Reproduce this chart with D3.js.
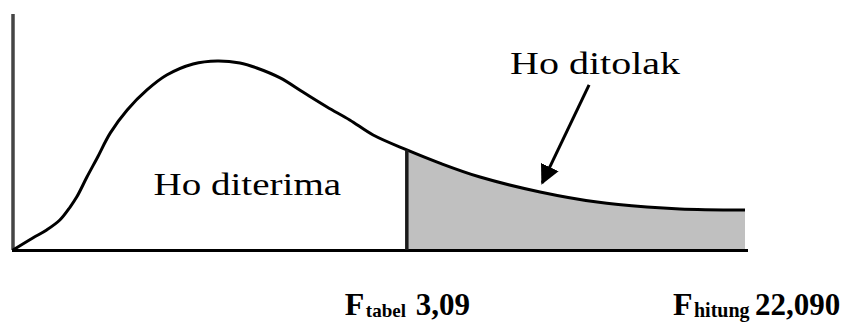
<!DOCTYPE html>
<html lang="id">
<head>
    <meta charset="UTF-8">
    <script src="https://d3js.org/d3.v7.min.js"></script>
    <style>
        body { margin: 0; background: white; }
        text { font-family: "Liberation Serif"; fill: #000; }
    </style>
</head>
<body>
    <svg id="chart" width="845" height="322"></svg>

    <script>
        // kurva distribusi F (satuan bebas)
        const curveX = [0, 2.7, 4.6, 6.4, 7.8, 8.7, 10.1, 11.5, 13.3, 15.6, 18.3, 21.0, 24.6, 27.9, 31.0, 33.3, 36.5,
                        39.6, 42.9, 46.0, 49.2, 53.8, 58.3, 63.8, 72.0, 79.8, 86.6, 91.1, 100];
        const curveY = [0, 0.063, 0.105, 0.157, 0.225, 0.277, 0.382, 0.482, 0.613, 0.733, 0.838, 0.916, 0.974, 0.99, 0.979, 0.953, 0.901,
                        0.827, 0.749, 0.681, 0.602, 0.524, 0.455, 0.382, 0.304, 0.251, 0.225, 0.215, 0.209];

        const fTabelPos = 53.8;   // posisi F tabel
        const fHitungPos = 100;   // posisi F hitung
        const labelTabel = ["F", "tabel", "3,09"];
        const labelHitung = ["F", "hitung", "22,090"];

        const data = curveX.map((x, i) => ({ x: x, y: curveY[i] }));

        const svg = d3.select("#chart");

        const x = d3.scaleLinear().domain([0, 100]).range([13, 745]);
        const y = d3.scaleLinear().domain([0, 1]).range([250, 59]);
        const curve = d3.curveCatmullRom.alpha(0.5);

        // daerah ditolak (arsir abu-abu)
        const tail = data.filter(d => d.x >= fTabelPos);
        svg.append("path")
            .datum(tail)
            .attr("fill", "#c0c0c0")
            .attr("d", d3.area()
                .x(d => x(d.x))
                .y0(y(0))
                .y1(d => y(d.y))
                .curve(curve));

        // sumbu Y
        svg.append("line")
            .attr("x1", 13).attr("x2", 13)
            .attr("y1", 14).attr("y2", y(0))
            .attr("stroke", "#454545")
            .attr("stroke-width", 3.5);

        // sumbu X
        svg.append("line")
            .attr("x1", 12).attr("x2", x(100) + 3)
            .attr("y1", y(0) + 0.5).attr("y2", y(0) + 0.5)
            .attr("stroke", "#000")
            .attr("stroke-width", 3);

        // kurva
        svg.append("path")
            .datum(data)
            .attr("fill", "none")
            .attr("stroke", "#000")
            .attr("stroke-width", 3)
            .attr("d", d3.line()
                .x(d => x(d.x))
                .y(d => y(d.y))
                .curve(curve));

        // garis batas F tabel
        const yTabel = curveY[curveX.indexOf(fTabelPos)];
        svg.append("line")
            .attr("x1", x(fTabelPos)).attr("x2", x(fTabelPos))
            .attr("y1", y(yTabel)).attr("y2", y(0))
            .attr("stroke", "#1a1a1a")
            .attr("stroke-width", 3.5);

        // teks di dalam grafik (aslinya agak melebar)
        svg.append("text")
            .attr("transform", `translate(${x(19.2)},${y(0.288)}) scale(1.22,1)`)
            .style("font-size", "32px")
            .text("Ho diterima");

        svg.append("text")
            .attr("transform", `translate(${x(67.9)},${y(0.921)}) scale(1.25,1)`)
            .style("font-size", "32px")
            .text("Ho ditolak");

        // panah
        svg.append("defs").append("marker")
            .attr("id", "head")
            .attr("viewBox", "0 0 10 10")
            .attr("refX", 9).attr("refY", 5)
            .attr("markerWidth", 6.5).attr("markerHeight", 6.5)
            .attr("markerUnits", "strokeWidth")
            .attr("orient", "auto")
            .append("path")
            .attr("d", "M0,0 L10,5 L0,10 Z")
            .attr("fill", "#000");

        svg.append("line")
            .attr("x1", x(78.7)).attr("y1", y(0.864))
            .attr("x2", x(72.3)).attr("y2", y(0.351))
            .attr("stroke", "#000")
            .attr("stroke-width", 3)
            .attr("marker-end", "url(#head)");

        // label bawah: F + subskrip + angka
        function bottomLabel(parts, x0, numX, subSize) {
            const g = svg.append("g").attr("font-weight", "bold");
            g.append("text")
                .attr("x", x0).attr("y", 315)
                .style("font-size", "32px")
                .text(parts[0]);
            g.append("text")
                .attr("x", x0 + 21).attr("y", 317)
                .style("font-size", subSize + "px")
                .text(parts[1]);
            g.append("text")
                .attr("x", numX).attr("y", 315)
                .style("font-size", "31px")
                .text(parts[2]);
        }

        bottomLabel(labelTabel, x(fTabelPos) - 62, x(fTabelPos) + 9, 19);
        bottomLabel(labelHitung, x(fHitungPos) - 72, x(fHitungPos) + 10, 20);
    </script>
</body>
</html>
